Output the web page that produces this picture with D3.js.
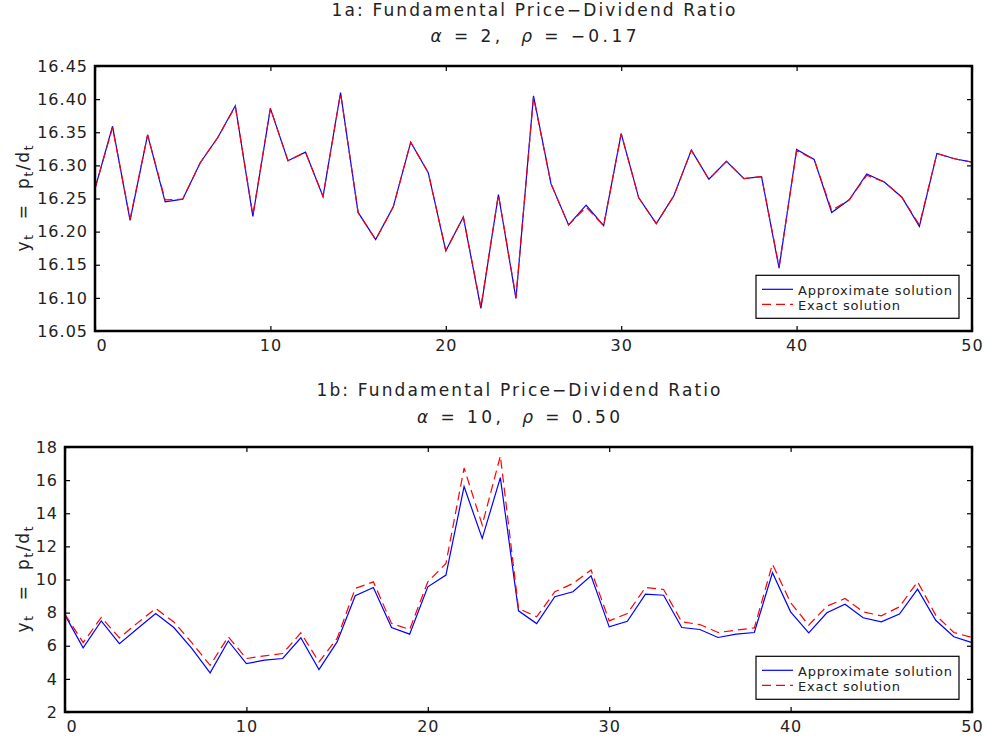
<!DOCTYPE html>
<html>
<head>
<meta charset="utf-8">
<script src="https://cdn.jsdelivr.net/npm/d3@7"></script>
<style>
  html, body { margin: 0; padding: 0; background: #fff; }
  svg { display: block; font-family: "DejaVu Sans", sans-serif; }
  text { white-space: pre; }
</style>
</head>
<body>
<div id="chart"></div>
<script>
// Time index shared by both panels
const periods = d3.range(0, 51);

// Panel 1a: alpha = 2, rho = -0.17
const approxA = [16.265,16.359,16.217,16.346,16.245,16.249,16.304,16.342,16.390,16.223,
  16.386,16.307,16.320,16.253,16.410,16.229,16.188,16.237,16.335,16.289,
  16.171,16.222,16.084,16.256,16.099,16.405,16.272,16.210,16.240,16.209,
  16.348,16.251,16.212,16.254,16.323,16.279,16.306,16.280,16.283,16.145,
  16.324,16.309,16.229,16.248,16.287,16.275,16.252,16.208,16.318,16.310,16.305];
const exactA = [16.265,16.357,16.219,16.346,16.248,16.249,16.304,16.342,16.389,16.225,
  16.386,16.307,16.320,16.253,16.409,16.229,16.188,16.237,16.335,16.289,
  16.171,16.222,16.086,16.256,16.101,16.403,16.272,16.210,16.237,16.209,
  16.348,16.251,16.212,16.254,16.323,16.279,16.306,16.280,16.283,16.147,
  16.322,16.309,16.232,16.248,16.285,16.275,16.252,16.210,16.318,16.310,16.305];

// Panel 1b: alpha = 10, rho = 0.50
const approxB = [7.85,5.87,7.50,6.13,7.04,7.95,7.10,5.83,4.36,6.29,
  4.92,5.13,5.23,6.48,4.56,6.23,9.02,9.52,7.10,6.70,
  9.56,10.27,15.61,12.48,16.15,8.11,7.34,8.96,9.26,10.23,
  7.14,7.48,9.12,9.05,7.10,6.98,6.50,6.70,6.80,10.41,
  8.05,6.78,7.99,8.51,7.69,7.44,7.91,9.42,7.54,6.54,6.19];
const exactB = [7.90,6.19,7.71,6.48,7.38,8.25,7.44,6.17,4.82,6.54,
  5.23,5.39,5.53,6.78,5.02,6.44,9.46,9.86,7.35,6.98,
  9.86,10.97,16.73,13.29,17.46,8.25,7.75,9.26,9.76,10.57,
  7.50,7.95,9.52,9.40,7.44,7.28,6.80,6.94,7.08,10.93,
  8.60,7.24,8.39,8.85,8.05,7.81,8.35,9.86,7.85,6.80,6.50];

// Tick labels
const xTicks = [0, 10, 20, 30, 40, 50];
const yTicksA = [16.05, 16.10, 16.15, 16.20, 16.25, 16.30, 16.35, 16.40, 16.45];
const yTicksB = [2, 4, 6, 8, 10, 12, 14, 16, 18];

// Text
const seriesNames = ["Approximate solution", "Exact solution"];
const titlesA = ["1a: Fundamental Price\u2212Dividend Ratio", ["2", "\u22120.17"]];
const titlesB = ["1b: Fundamental Price\u2212Dividend Ratio", ["10", "0.50"]];

const W = 985, H = 740;
const svg = d3.select("#chart").append("svg")
  .attr("width", W).attr("height", H);

function panel(opt) {
  const x = d3.scaleLinear().domain([0, 50]).range([opt.left, opt.right]);
  const y = d3.scaleLinear().domain(opt.yDomain).range([opt.bottom, opt.top]);
  const g = svg.append("g");

  // Two-line title
  g.append("text")
    .attr("x", (opt.left + opt.right) / 2).attr("y", opt.titleY)
    .attr("text-anchor", "middle").attr("font-size", 17).attr("fill", "#222")
    .attr("textLength", 404).attr("lengthAdjust", "spacing")
    .text(opt.titles[0]);
  const t2 = g.append("text")
    .attr("x", (opt.left + opt.right) / 2).attr("y", opt.titleY + 26.5)
    .attr("text-anchor", "middle").attr("font-size", 17).attr("fill", "#222")
    .attr("textLength", opt.sub2Len).attr("lengthAdjust", "spacing");
  t2.append("tspan").attr("font-style", "italic").text("\u03b1");
  t2.append("tspan").text(" = " + opt.titles[1][0] + ",  ");
  t2.append("tspan").attr("font-style", "italic").text("\u03c1");
  t2.append("tspan").text(" = " + opt.titles[1][1]);

  // Axes (inward ticks on all four sides)
  const bottomAx = g.append("g").attr("transform", `translate(0,${opt.bottom})`)
    .call(d3.axisBottom(x).tickValues(xTicks).tickSizeInner(-5).tickSizeOuter(0).tickPadding(9).tickFormat(d3.format("d")));
  g.append("g").attr("transform", `translate(0,${opt.top})`)
    .call(d3.axisTop(x).tickValues(xTicks).tickSizeInner(-5).tickSizeOuter(0).tickFormat(""));
  g.append("g").attr("transform", `translate(${opt.left},0)`)
    .call(d3.axisLeft(y).tickValues(opt.yTicks).tickSizeInner(-5).tickSizeOuter(0).tickPadding(7).tickFormat(opt.yFormat));
  g.append("g").attr("transform", `translate(${opt.right},0)`)
    .call(d3.axisRight(y).tickValues(opt.yTicks).tickSizeInner(-5).tickSizeOuter(0).tickFormat(""));

  g.selectAll(".domain").remove();
  g.selectAll(".tick line").attr("stroke", "#000").attr("stroke-width", 1.2);
  g.selectAll(".tick text").attr("font-size", 16).attr("fill", "#222")
    .attr("font-family", "DejaVu Sans").attr("letter-spacing", "1px");
  bottomAx.selectAll(".tick").filter(d => d === 0).select("text")
    .attr("text-anchor", "start").attr("x", 1);

  // Series: approximate (solid) under exact (dashed)
  const line = d3.line().x((d, i) => x(periods[i])).y(d => y(d));
  g.append("path").datum(opt.approx).attr("d", line)
    .attr("fill", "none").attr("stroke", "#0000ff").attr("stroke-width", 1.2);
  g.append("path").datum(opt.exact).attr("d", line)
    .attr("fill", "none").attr("stroke", "#ff0000").attr("stroke-width", 1.2)
    .attr("stroke-dasharray", "9,5");

  // Frame
  g.append("rect")
    .attr("x", opt.left).attr("y", opt.top)
    .attr("width", opt.right - opt.left).attr("height", opt.bottom - opt.top)
    .attr("fill", "none").attr("stroke", "#000").attr("stroke-width", 2.5);

  // Y label with subscripts
  const ylab = g.append("text")
    .attr("transform", `translate(29,${(opt.top + opt.bottom) / 2}) rotate(-90)`)
    .attr("text-anchor", "middle").attr("font-size", 17).attr("fill", "#222")
    .attr("textLength", 106).attr("lengthAdjust", "spacing");
  ylab.append("tspan").text("y");
  ylab.append("tspan").attr("font-size", 12).attr("dy", 4).text("t");
  ylab.append("tspan").attr("dy", -4).text("  =  p");
  ylab.append("tspan").attr("font-size", 12).attr("dy", 4).text("t");
  ylab.append("tspan").attr("dy", -4).text("/d");
  ylab.append("tspan").attr("font-size", 12).attr("dy", 4).text("t");

  // Legend box in the lower right corner
  const lx = 756, lw = 203, lh = 43;
  const ly = opt.bottom - 55.7;
  const lg = g.append("g");
  lg.append("rect").attr("x", lx).attr("y", ly).attr("width", lw).attr("height", lh)
    .attr("fill", "#fff").attr("stroke", "#000").attr("stroke-width", 1.2);
  const rows = [
    { name: seriesNames[0], color: "#0000ff", dash: null, len: 154 },
    { name: seriesNames[1], color: "#ff0000", dash: "9,5", len: 102 }
  ];
  rows.forEach((r, i) => {
    const cy = ly + 14 + i * 15;
    lg.append("line").attr("x1", lx + 6).attr("x2", lx + 37)
      .attr("y1", cy).attr("y2", cy)
      .attr("stroke", r.color).attr("stroke-width", 1.2)
      .attr("stroke-dasharray", r.dash);
    lg.append("text").attr("x", lx + 42).attr("y", cy + 5.5)
      .attr("font-size", 13).attr("fill", "#222")
      .attr("textLength", r.len).attr("lengthAdjust", "spacing")
      .text(r.name);
  });
}

panel({
  left: 95, right: 972, top: 66, bottom: 331,
  yDomain: [16.05, 16.45], yTicks: yTicksA, yFormat: d3.format(".2f"),
  approx: approxA, exact: exactA, titles: titlesA, titleY: 15.5, sub2Len: 206
});
panel({
  left: 65, right: 972, top: 447, bottom: 712,
  yDomain: [2, 18], yTicks: yTicksB, yFormat: d3.format("d"),
  approx: approxB, exact: exactB, titles: titlesB, titleY: 396, sub2Len: 203
});
</script>
</body>
</html>
